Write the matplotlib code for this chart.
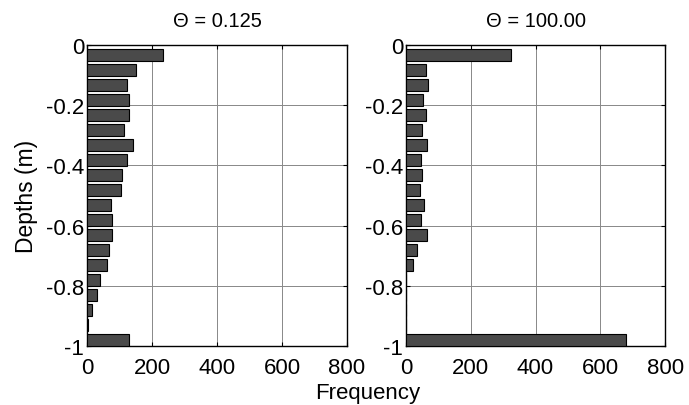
import numpy as np
import matplotlib
matplotlib.use("Agg")
import matplotlib.pyplot as plt

plt.rcParams['font.family'] = ['Liberation Sans', 'DejaVu Sans']
plt.rcParams['axes.unicode_minus'] = False

# depth bin centres (m), top to bottom
depth_centers = np.linspace(-0.033, -0.98, 20)
bin_height = 0.04

freq_theta_0125 = [235, 150, 124, 128, 128, 115, 140, 124, 107, 104,
                   73, 78, 76, 69, 61, 41, 32, 14, 4, 128]
freq_theta_100 = [323, 61, 69, 53, 61, 48, 66, 45, 48, 42,
                  56, 45, 65, 33, 22, 0, 0, 0, 0, 679]

titles = ["\u0398 = 0.125", "\u0398 = 100.00"]
xticks = [0, 200, 400, 600, 800]
yticks = [0, -0.2, -0.4, -0.6, -0.8, -1]
ytick_labels = ["0", "-0.2", "-0.4", "-0.6", "-0.8", "-1"]

fig = plt.figure(figsize=(6.89, 4.06), dpi=100)
ax1 = fig.add_axes([0.1263, 0.1453, 0.3774, 0.7414])
ax2 = fig.add_axes([0.5893, 0.1453, 0.3760, 0.7414])

for ax, vals, title in zip([ax1, ax2], [freq_theta_0125, freq_theta_100], titles):
    ax.barh(depth_centers, vals, height=bin_height, color='#4a4a4a',
            edgecolor='black', linewidth=0.8, zorder=3)
    ax.set_xlim(0, 800)
    ax.set_ylim(-1, 0)
    ax.set_xticks(xticks)
    ax.set_yticks(yticks)
    ax.set_yticklabels(ytick_labels)
    ax.grid(True, color='#888888', linewidth=0.7, zorder=0)
    ax.tick_params(direction='in', length=3, width=0.8, top=True, right=True,
                   labelsize=16)
    ax.tick_params(axis='x', pad=8)
    ax.tick_params(axis='y', pad=2)
    for s in ax.spines.values():
        s.set_linewidth(1.0)
        s.set_color('black')
    ax.set_title(title, fontsize=14.5, pad=14)

ax1.set_ylabel("Depths (m)", fontsize=16.5, labelpad=6)
fig.text(0.534, 0.005, "Frequency", ha='center', va='bottom', fontsize=16)

fig.savefig("out.png", dpi=100)
